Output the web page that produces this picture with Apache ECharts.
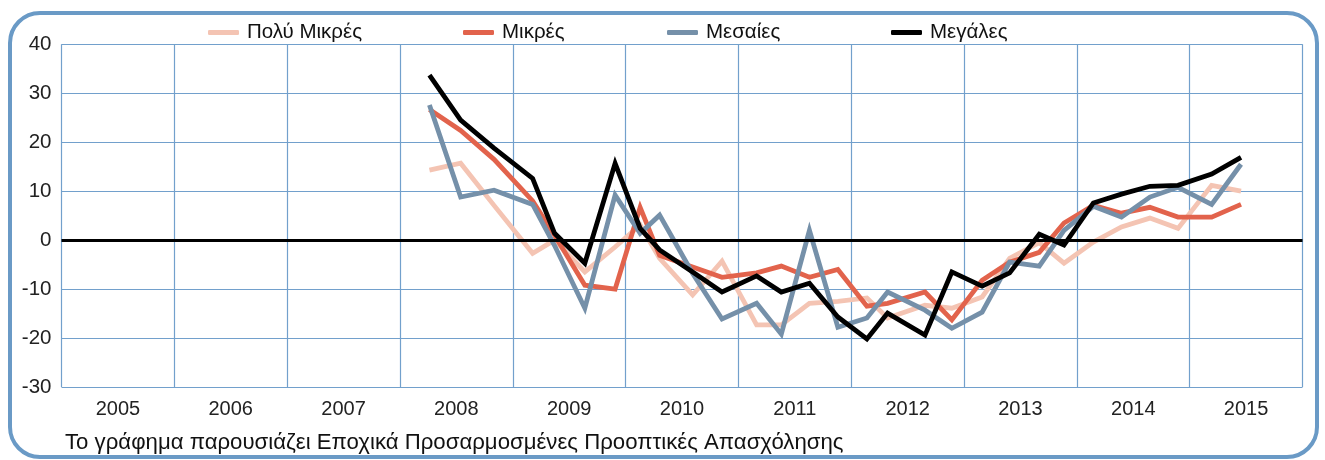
<!DOCTYPE html>
<html>
<head>
<meta charset="utf-8">
<script src="https://cdn.jsdelivr.net/npm/echarts@6/dist/echarts.min.js"></script>
<style>
  html, body { margin: 0; padding: 0; background: #fff; }
  #chart { width: 1325px; height: 460px; }
</style>
</head>
<body>
<div id="chart"></div>
<script>
// year bands on the axis
const years = ['2005', '2006', '2007', '2008', '2009', '2010', '2011', '2012', '2013', '2014', '2015']

// survey dates
const dates = ['2008-04-06', '2008-07-16', '2008-11-01', '2009-03-06', '2009-05-16', '2009-08-22',
  '2009-11-28', '2010-02-17', '2010-04-21', '2010-08-06', '2010-11-09', '2011-03-01', '2011-05-20',
  '2011-08-19', '2011-11-19', '2012-02-21', '2012-04-28', '2012-08-27', '2012-11-22', '2013-02-28',
  '2013-05-28', '2013-09-01', '2013-11-20', '2014-02-23', '2014-05-25', '2014-08-25', '2014-11-24',
  '2015-03-13', '2015-06-16']

const verySmall = [14.3, 15.7, 7.1, -2.7, 0.0, -6.5, -1.4, 3.1, -3.7, -11.2, -4.3, -17.3, -17.3, -12.9,
  -12.5, -11.8, -15.9, -13.3, -13.9, -11.6, -3.7, -0.5, -4.7, -0.4, 2.7, 4.5, 2.4, 11.2, 10.0]
const small = [26.7, 22.4, 16.5, 8.0, 1.0, -9.2, -10.0, 6.7, -3.1, -5.5, -7.6, -6.7, -5.3, -7.6,
  -6.0, -13.5, -12.9, -10.6, -16.3, -8.2, -4.5, -2.5, 3.5, 7.1, 5.5, 6.7, 4.7, 4.7, 7.3]
const medium = [27.6, 8.8, 10.2, 7.3, -1.1, -13.9, 9.2, 1.4, 5.1, -6.8, -16.1, -12.9, -19.2, 2.0,
  -17.8, -15.9, -10.6, -14.3, -18.0, -14.7, -4.5, -5.3, 2.0, 6.9, 4.7, 8.8, 10.8, 7.3, 15.5]
const large = [33.7, 24.5, 18.8, 12.6, 1.4, -4.7, 15.7, 2.4, -2.0, -6.5, -10.6, -7.3, -10.6, -8.8,
  -15.7, -20.2, -14.9, -19.4, -6.5, -9.4, -6.7, 1.2, -1.0, 7.6, 9.4, 11.0, 11.2, 13.5, 16.9]

const seriesNames = ['Πολύ Μικρές', 'Μικρές', 'Μεσαίες', 'Μεγάλες']
const seriesColors = ['#f4c4b3', '#e2634c', '#7590a9', '#000000']
const legendLeft = [203, 458, 662, 886]
const caption = 'Το γράφημα παρουσιάζει Εποχικά Προσαρμοσμένες Προοπτικές Απασχόλησης'

const font = 'Liberation Sans, Arial, sans-serif'
const gridColor = '#72a0cc'

function pairs (values) {
  return values.map((v, i) => [dates[i], v])
}

function lineSeries (name, values, color) {
  return {
    name: name,
    type: 'line',
    xAxisIndex: 1,
    data: pairs(values),
    symbol: 'none',
    z: 3,
    lineStyle: { color: color, width: 4.8, join: 'miter' },
    itemStyle: { color: color }
  }
}

const chart = echarts.init(document.getElementById('chart'), null, { renderer: 'canvas' })

const series = [
  lineSeries(seriesNames[0], verySmall, seriesColors[0]),
  lineSeries(seriesNames[1], small, seriesColors[1]),
  lineSeries(seriesNames[2], medium, seriesColors[2]),
  lineSeries(seriesNames[3], large, seriesColors[3])
]
// zero line
series[0].markLine = {
  silent: true,
  symbol: 'none',
  label: { show: false },
  lineStyle: { color: '#000', width: 3, type: 'solid' },
  data: [{ yAxis: 0 }]
}

// one legend per item so each sits where the original puts it
const legends = seriesNames.map((name, i) => ({
  data: [name],
  left: legendLeft[i],
  top: 17,
  itemWidth: 31,
  itemHeight: 5,
  icon: 'roundRect',
  textStyle: { fontSize: 20.5, color: '#111', fontFamily: font, padding: [0, 0, 0, 3] }
}))

const option = {
  animation: false,
  textStyle: { fontFamily: font },
  title: {
    text: caption,
    left: 60,
    top: 427,
    textStyle: { fontSize: 22.2, fontWeight: 'normal', color: '#111', fontFamily: font }
  },
  legend: legends,
  graphic: [{
    type: 'rect',
    silent: true,
    shape: { x: 10, y: 13, width: 1307, height: 444, r: 30 },
    style: { fill: 'none', stroke: '#6a9ac6', lineWidth: 4 }
  }],
  grid: { left: 61.5, right: 22.5, top: 44.3, bottom: 73 },
  xAxis: [{
    type: 'category',
    data: years,
    boundaryGap: true,
    axisLine: { show: false },
    axisTick: { show: false },
    axisLabel: { fontSize: 20, color: '#222', margin: 12, fontFamily: font },
    splitLine: { show: true, lineStyle: { color: gridColor, width: 1.2 } }
  }, {
    type: 'time',
    min: '2005-01-01',
    max: '2016-01-01',
    show: false
  }],
  yAxis: {
    type: 'value',
    min: -30,
    max: 40,
    interval: 10,
    axisLine: { show: false },
    axisTick: { show: false },
    axisLabel: { fontSize: 20.5, color: '#222', margin: 10, fontFamily: font },
    splitLine: { show: true, lineStyle: { color: gridColor, width: 1.2 } }
  },
  series: series
}

chart.setOption(option)
</script>
</body>
</html>
